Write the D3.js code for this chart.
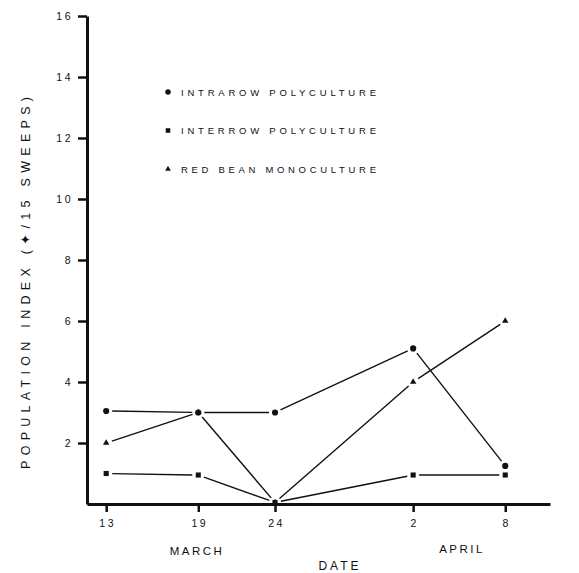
<!DOCTYPE html>
<html>
<head>
<meta charset="utf-8">
<script src="https://cdn.jsdelivr.net/npm/d3@7"></script>
<style>
  body { margin: 0; background: #fff; }
  svg text { font-family: "Liberation Sans", Arial, sans-serif; fill: #111; }
</style>
</head>
<body>
<div id="chart"></div>
<script>
// sampling dates (March 13 .. April 8)
var dateLabels = ["13", "19", "24", "2", "8"];
var dates = [
  new Date(1980, 2, 13), new Date(1980, 2, 19), new Date(1980, 2, 24),
  new Date(1980, 3, 2), new Date(1980, 3, 8)
];

// population index per 15 sweeps
var intrarow = [3.05, 3.0, 3.0, 5.1, 1.25];
var interrow = [1.0, 0.95, 0.05, 0.95, 0.95];
var redBean = [2.0, 3.0, 0.05, 4.0, 6.0];

var seriesNames = ["INTRAROW POLYCULTURE", "INTERROW POLYCULTURE", "RED BEAN MONOCULTURE"];
var yTicks = [2, 4, 6, 8, 10, 12, 14, 16];

var svgWidth = 579;
var svgHeight = 573;
var margin = { top: 16, right: 29, bottom: 69, left: 87 };
var width = svgWidth - margin.left - margin.right;
var height = svgHeight - margin.top - margin.bottom;

var svg = d3.select("#chart")
  .append("svg")
  .attr("width", svgWidth)
  .attr("height", svgHeight);

var chartGroup = svg.append("g")
  .attr("transform", `translate(${margin.left}, ${margin.top})`);

var xScale = d3.scaleTime()
  .domain([new Date(1980, 2, 11, 18), new Date(1980, 3, 10, 22)])
  .range([0, width]);

var yScale = d3.scaleLinear()
  .domain([0, 16])
  .range([height, 0]);

// axes
var leftAxis = d3.axisLeft(yScale)
  .tickValues(yTicks)
  .tickSize(9)
  .tickPadding(5)
  .tickSizeOuter(0);

var bottomAxis = d3.axisBottom(xScale)
  .tickValues(dates)
  .tickFormat((d, i) => dateLabels[i])
  .tickSize(8)
  .tickPadding(8)
  .tickSizeOuter(0);

var yAxis = chartGroup.append("g").call(leftAxis);
var xAxis = chartGroup.append("g")
  .attr("transform", `translate(0, ${height})`)
  .call(bottomAxis);

[yAxis, xAxis].forEach(function(ax) {
  ax.select(".domain").attr("stroke", "#111").attr("stroke-width", 3);
  ax.selectAll(".tick line").attr("stroke", "#111").attr("stroke-width", 2.5);
  ax.selectAll(".tick text")
    .attr("font-size", 10.5)
    .style("letter-spacing", "2.5px")
    .attr("fill", "#111");
});
xAxis.selectAll(".tick text").attr("dx", "1px");

// series lines, drawn with small gaps at the markers
var series = [
  { name: seriesNames[0], values: intrarow, symbol: d3.symbolCircle, size: 30 },
  { name: seriesNames[1], values: interrow, symbol: d3.symbolSquare, size: 26 },
  { name: seriesNames[2], values: redBean, symbol: d3.symbolTriangle, size: 18 }
];

var gap = 6;
series.forEach(function(s) {
  var pts = s.values.map((v, i) => [xScale(dates[i]), yScale(v)]);
  var segs = d3.pairs(pts).map(function(p) {
    var dx = p[1][0] - p[0][0], dy = p[1][1] - p[0][1];
    var len = Math.sqrt(dx * dx + dy * dy);
    var ux = dx / len, uy = dy / len;
    return [[p[0][0] + ux * gap, p[0][1] + uy * gap], [p[1][0] - ux * gap, p[1][1] - uy * gap]];
  });
  chartGroup.append("g").selectAll("line")
    .data(segs)
    .enter()
    .append("line")
    .attr("x1", d => d[0][0])
    .attr("y1", d => d[0][1])
    .attr("x2", d => d[1][0])
    .attr("y2", d => d[1][1])
    .attr("stroke", "#111")
    .attr("stroke-width", 1.4);

  chartGroup.append("g").selectAll("path")
    .data(pts)
    .enter()
    .append("path")
    .attr("d", d3.symbol().type(s.symbol).size(s.size))
    .attr("transform", d => `translate(${d[0]}, ${d[1]})`)
    .attr("fill", "#111");
});

// legend
var legend = svg.append("g").attr("transform", "translate(168, 92)");
var legendItems = legend.selectAll("g")
  .data(series)
  .enter()
  .append("g")
  .attr("transform", (d, i) => `translate(0, ${i * 38.5})`);

legendItems.append("path")
  .attr("d", d => d3.symbol().type(d.symbol).size(d.size * 0.8)())
  .attr("fill", "#111");

legendItems.append("text")
  .attr("x", 13)
  .attr("y", 3.5)
  .attr("font-size", 9.5)
  .attr("textLength", 195)
  .attr("lengthAdjust", "spacing")
  .text(d => d.name);

// axis titles
svg.append("text")
  .attr("transform", "rotate(-90)")
  .attr("x", -283)
  .attr("y", 30)
  .attr("text-anchor", "middle")
  .attr("font-size", 12.5)
  .attr("textLength", 372)
  .attr("lengthAdjust", "spacing")
  .text("POPULATION INDEX  (\u2726/15 SWEEPS)");

svg.append("text")
  .attr("x", 197)
  .attr("y", 555)
  .attr("text-anchor", "middle")
  .attr("font-size", 11.5)
  .style("letter-spacing", "2.5px")
  .text("MARCH");

svg.append("text")
  .attr("x", 462)
  .attr("y", 553)
  .attr("text-anchor", "middle")
  .attr("font-size", 11.5)
  .style("letter-spacing", "2.5px")
  .text("APRIL");

svg.append("text")
  .attr("x", 340)
  .attr("y", 570)
  .attr("text-anchor", "middle")
  .attr("font-size", 12)
  .style("letter-spacing", "3px")
  .text("DATE");
</script>
</body>
</html>
